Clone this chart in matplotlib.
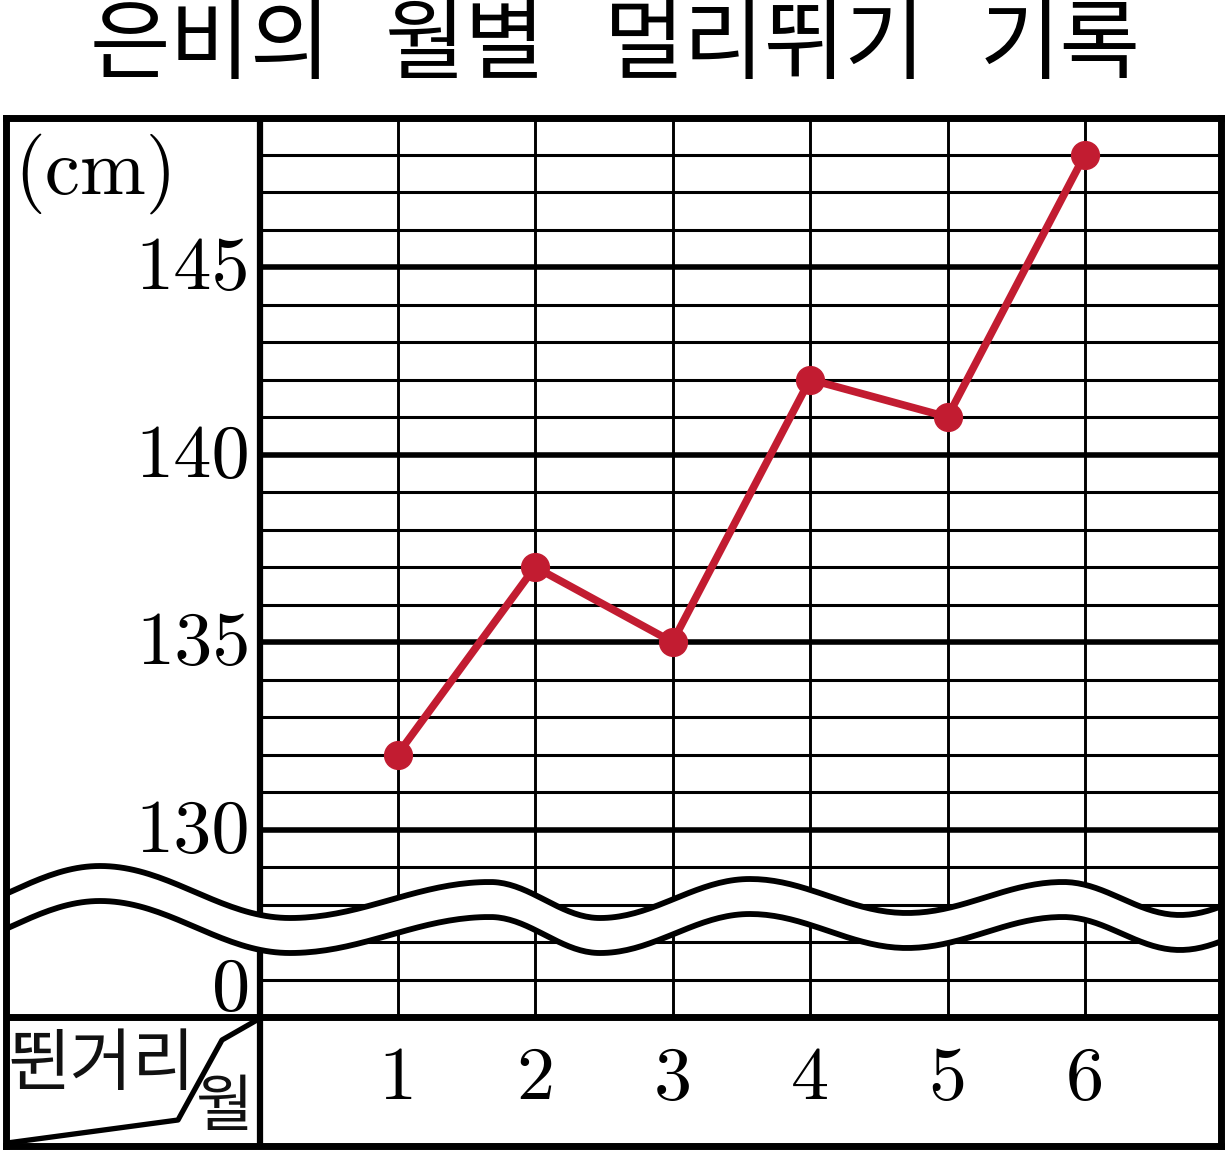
import numpy as np
import matplotlib
matplotlib.use("Agg")
import matplotlib.pyplot as plt

# data
months = [1, 2, 3, 4, 5, 6]
month_labels = ["1", "2", "3", "4", "5", "6"]
jump_cm = [132, 137, 135, 142, 141, 148]
y_tick_values = [130, 135, 140, 145]
title_words = ["은비의", "월별", "멀리뛰기", "기록"]

W, H = 1228, 1152
# pixel layout of the table (reference picture)
PX0, PY0 = 260, 1017      # pixel of x=0, y=125
SX, SY = 137.5, 37.5      # pixels per month / per cm
Y_BASE = 125


def to_data(px, py):
    return (px - PX0) / SX, Y_BASE + (PY0 - py) / SY


fig = plt.figure(figsize=(W / 100, H / 100), dpi=100)
left, top, right, bottom = 5.5, 117.5, 1221, 1146
ax = fig.add_axes([left / W, 1 - bottom / H, (right - left) / W, (bottom - top) / H])
x_lo, y_lo = to_data(left, bottom)
x_hi, y_hi = to_data(right, top)
ax.set_xlim(x_lo, x_hi)
ax.set_ylim(y_lo, y_hi)
ax.set_xticks([])
ax.set_yticks([])
for sp in ax.spines.values():
    sp.set_linewidth(5)
    sp.set_zorder(10)

# grid
for v in range(Y_BASE + 1, 149):
    lw = 4 if v % 5 == 0 else 2.2
    ax.plot([0, 7], [v, v], color="black", lw=lw, zorder=1, solid_capstyle="butt")
for m in months:
    ax.plot([m, m], [Y_BASE, 149], color="black", lw=2.1, zorder=1)
ax.plot([0, 0], [y_lo, 149], color="black", lw=4.5, zorder=2)
ax.plot([x_lo, 7], [Y_BASE, Y_BASE], color="black", lw=5, zorder=2)

# wave break (cosine joins between extremes)
wave_px = [(-80, 918), (100, 866), (290, 918), (490, 882), (600, 918), (750, 879),
           (907, 913), (1063, 882), (1180, 915), (1300, 882)]
xs, ys = [], []
for (xa, ya), (xb, yb) in zip(wave_px[:-1], wave_px[1:]):
    t = np.linspace(0, 1, 40)
    xs.extend(xa + (xb - xa) * t)
    ys.extend(ya + (yb - ya) * (1 - np.cos(np.pi * t)) / 2)
xs, ys = np.array(xs), np.array(ys)
wx, wy_top = to_data(xs, ys)
_, wy_bot = to_data(xs, ys + 35)
ax.fill_between(wx, wy_bot, wy_top, color="white", zorder=5)
ax.plot(wx, wy_top, color="black", lw=4.2, zorder=6)
ax.plot(wx, wy_bot, color="black", lw=4.2, zorder=6)

# data line
ax.plot(months, jump_cm, color="#C21C31", lw=5.5, marker="o", markersize=20, zorder=8)

# labels
cm_font = "cmr10"
for v in y_tick_values:
    ax.text(-0.07, v - 0.1, str(v), ha="right", va="center", fontsize=55, family=cm_font, zorder=9)
ax.text(-0.07, 125.68, "0", ha="right", va="center", fontsize=55, family=cm_font, zorder=9)
cx, cy = to_data(95, 174)
ax.text(cx, cy, "(cm)", ha="center", va="center", fontsize=57, family=cm_font)
for m, lab in zip(months, month_labels):
    ax.text(m, 123.3, lab, ha="center", va="center", fontsize=55, family=cm_font)

# header cell
diag = [(7, 1143), (178, 1120), (222, 1040), (257, 1020)]
dx, dy = to_data(np.array([p[0] for p in diag]), np.array([p[1] for p in diag]))
ax.plot(dx, dy, color="black", lw=3.8, zorder=7)
kr = ["Noto Sans CJK KR", "DejaVu Sans"]
tx, ty = to_data(101, 1066)
ax.text(tx, ty, "뛴거리", ha="center", va="center", fontsize=49, family=kr, color="#111111")
tx, ty = to_data(224, 1108)
ax.text(tx, ty, "월", ha="center", va="center", fontsize=45, family=kr, color="#111111")

# title words
for word, xc in zip(title_words, [210, 465, 765, 1060]):
    fig.text(xc / W, 1 - 47 / H, word, ha="center", va="center", fontsize=63, family=kr)

fig.savefig("out.png", dpi=100)
